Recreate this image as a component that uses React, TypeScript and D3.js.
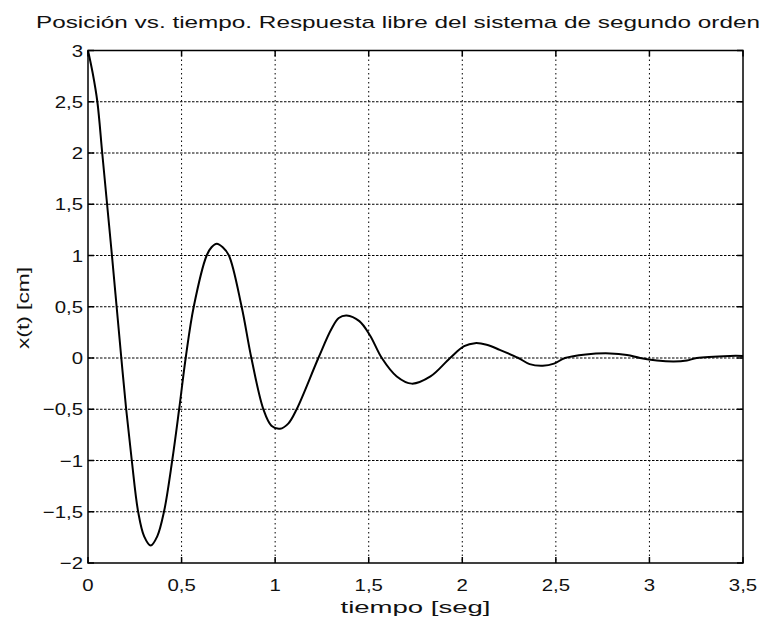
import React from "react";
import * as d3 from "d3";

// valores
const tiempo = [
  0, 0.025, 0.05, 0.076, 0.102, 0.128, 0.153, 0.178, 0.204, 0.234, 0.268, 0.3,
  0.335, 0.37, 0.406, 0.45, 0.487, 0.522, 0.565, 0.634, 0.66, 0.688, 0.72,
  0.753, 0.821, 0.873, 0.937, 0.98, 1.026, 1.07, 1.115, 1.231, 1.3, 1.34,
  1.382, 1.45, 1.507, 1.57, 1.65, 1.73, 1.83, 1.935, 2.01, 2.068, 2.13, 2.2,
  2.3, 2.36, 2.43, 2.49, 2.549, 2.66, 2.79, 2.88, 2.95, 3.04, 3.13, 3.2,
  3.253, 3.43, 3.5
];
const posicion = [
  3, 2.78, 2.5, 2.0, 1.5, 1.0, 0.5, 0, -0.5, -1.0, -1.5, -1.74, -1.83, -1.74,
  -1.5, -1.0, -0.5, 0, 0.5, 1.0, 1.08, 1.115, 1.08, 1.0, 0.5, 0, -0.5, -0.66,
  -0.69, -0.64, -0.5, 0, 0.28, 0.39, 0.415, 0.36, 0.22, 0, -0.18, -0.25,
  -0.18, 0, 0.115, 0.145, 0.13, 0.08, 0, -0.06, -0.075, -0.055, 0, 0.035,
  0.045, 0.03, 0, -0.025, -0.035, -0.025, 0, 0.02, 0.02
];
const xTicks = [0, 0.5, 1, 1.5, 2, 2.5, 3, 3.5];
const yTicks = [-2, -1.5, -1, -0.5, 0, 0.5, 1, 1.5, 2, 2.5, 3];
const titulo = "Posición vs. tiempo. Respuesta libre del sistema de segundo orden";
const xLabel = "tiempo [seg]";
const yLabel = "x(t) [cm]";

const fmt = (v: number) => String(v).replace(".", ",").replace("-", "\u2212");

export default function App() {
  const width = 764,
    height = 623;
  const margin = { top: 50.5, right: 21, bottom: 60, left: 88 };
  const innerWidth = width - margin.left - margin.right;
  const innerHeight = height - margin.top - margin.bottom;

  const xScale = d3.scaleLinear().domain([0, 3.5]).range([0, innerWidth]);
  const yScale = d3.scaleLinear().domain([-2, 3]).range([innerHeight, 0]);

  const points: [number, number][] = tiempo.map((t, i) => [t, posicion[i]]);
  const line = d3
    .line<[number, number]>()
    .x(d => xScale(d[0]))
    .y(d => yScale(d[1]))
    .curve(d3.curveCatmullRom.alpha(0.5));

  const font = "'Liberation Sans', Arial, sans-serif";
  const tickLen = 6;

  return (
    <svg
      width={width}
      height={height}
      style={{ position: "absolute", left: 0, top: 0, background: "#fff" }}
    >
      <rect width={width} height={height} fill="#fff" />
      <text
        x={398}
        y={28}
        textAnchor="middle"
        fontFamily={font}
        fontSize={17}
        textLength={724}
        lengthAdjust="spacingAndGlyphs"
        fill="#111"
      >
        {titulo}
      </text>
      <g transform={`translate(${margin.left},${margin.top})`}>
        {/* rejilla */}
        {yTicks.slice(1, -1).map(v => (
          <line
            key={"gy" + v}
            x1={0}
            x2={innerWidth}
            y1={yScale(v)}
            y2={yScale(v)}
            stroke="#000"
            strokeWidth={1}
            strokeDasharray="2.5,1.5"
          />
        ))}
        {xTicks.slice(1, -1).map(v => (
          <line
            key={"gx" + v}
            x1={xScale(v)}
            x2={xScale(v)}
            y1={0}
            y2={innerHeight}
            stroke="#000"
            strokeWidth={1}
            strokeDasharray="1.5,3"
          />
        ))}
        {/* marcas */}
        {xTicks.map(v => (
          <g key={"tx" + v}>
            <line x1={xScale(v)} x2={xScale(v)} y1={innerHeight} y2={innerHeight - tickLen} stroke="#000" strokeWidth={1.5} />
            <line x1={xScale(v)} x2={xScale(v)} y1={0} y2={tickLen} stroke="#000" strokeWidth={1.5} />
            <text
              transform={`translate(${xScale(v)},${innerHeight + 28}) scale(1.2,1)`}
              textAnchor="middle"
              fontFamily={font}
              fontSize={17}
              fill="#111"
            >
              {fmt(v)}
            </text>
          </g>
        ))}
        {yTicks.map(v => (
          <g key={"ty" + v}>
            <line x1={0} x2={tickLen} y1={yScale(v)} y2={yScale(v)} stroke="#000" strokeWidth={1.5} />
            <line x1={innerWidth} x2={innerWidth - tickLen} y1={yScale(v)} y2={yScale(v)} stroke="#000" strokeWidth={1.5} />
            <text
              transform={`translate(-5,${yScale(v) + 6}) scale(1.2,1)`}
              textAnchor="end"
              fontFamily={font}
              fontSize={17}
              fill="#111"
            >
              {fmt(v)}
            </text>
          </g>
        ))}
        {/* curva */}
        <path d={line(points) || ""} fill="none" stroke="#000" strokeWidth={2} strokeLinejoin="round" />
        {/* marco */}
        <rect x={0} y={0} width={innerWidth} height={innerHeight} fill="none" stroke="#000" strokeWidth={1.5} />
      </g>
      <text
        x={margin.left + innerWidth / 2}
        y={613}
        textAnchor="middle"
        fontFamily={font}
        fontSize={16}
        textLength={150}
        lengthAdjust="spacingAndGlyphs"
        fill="#111"
      >
        {xLabel}
      </text>
      <text
        transform={`translate(29,308) rotate(-90)`}
        textAnchor="middle"
        fontFamily={font}
        fontSize={16}
        textLength={82}
        lengthAdjust="spacingAndGlyphs"
        fill="#111"
      >
        {yLabel}
      </text>
    </svg>
  );
}
